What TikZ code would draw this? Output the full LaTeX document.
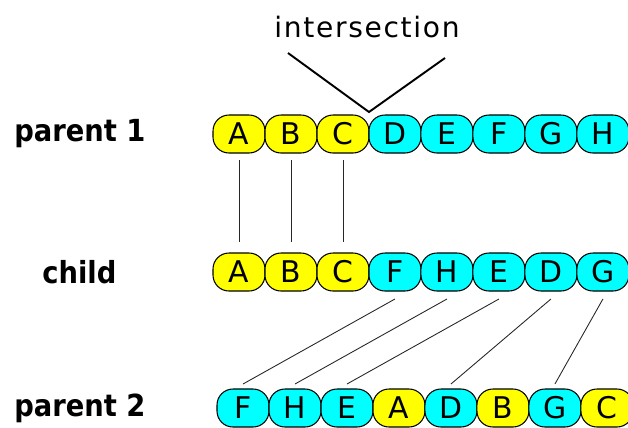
\documentclass[tikz,border=0pt]{standalone}
\usepackage{fontspec}
\setmainfont{DejaVu Sans}
\newfontfamily\labelfont{DejaVu Sans Condensed}
\usetikzlibrary{positioning}

\definecolor{geneyellow}{RGB}{255,255,0}
\definecolor{genecyan}{RGB}{0,255,255}

\begin{document}
\begin{tikzpicture}[
    x=0.02cm, y=-0.02cm,
    gene/.style={
        rectangle,
        draw,
        line width=0.6pt,
        rounded corners=0.32cm,
        inner sep=0pt,
        outer sep=0pt,
        minimum width=1.04cm,
        minimum height=0.76cm,
        font=\fontsize{17}{17}\selectfont
    },
    rowlabel/.style={
        anchor=west,
        inner sep=0pt,
        font=\labelfont\bfseries\fontsize{17.3}{17.3}\selectfont
    },
    link/.style={line width=0.5pt, black!85}
]
\useasboundingbox (0,0) rectangle (628,427);

% row names
\node[rowlabel] (p1_name) at (14,134) {parent 1};
\node[rowlabel] (ch_name) at (42,272) {child};
\node[rowlabel] (p2_name) at (14,408) {parent 2};

% chromosomes, one gene after another
\coordinate (p1-0) at (213,134);
\foreach \g/\c [count=\i] in {A/geneyellow, B/geneyellow, C/geneyellow,
        D/genecyan, E/genecyan, F/genecyan, G/genecyan, H/genecyan} {
    \pgfmathtruncatemacro\j{\i-1}
    \node[gene, fill=\c, right=0pt of p1-\j] (p1-\i) {\g};
}

\coordinate (ch-0) at (213,272);
\foreach \g/\c [count=\i] in {A/geneyellow, B/geneyellow, C/geneyellow,
        F/genecyan, H/genecyan, E/genecyan, D/genecyan, G/genecyan} {
    \pgfmathtruncatemacro\j{\i-1}
    \node[gene, fill=\c, right=0pt of ch-\j] (ch-\i) {\g};
}

\coordinate (p2-0) at (217,408);
\foreach \g/\c [count=\i] in {F/genecyan, H/genecyan, E/genecyan,
        A/geneyellow, D/genecyan, B/geneyellow, G/genecyan, C/geneyellow} {
    \pgfmathtruncatemacro\j{\i-1}
    \node[gene, fill=\c, right=0pt of p2-\j] (p2-\i) {\g};
}

% cut point
\node[anchor=base, inner sep=0pt, font=\addfontfeature{LetterSpace=6}\fontsize{16}{16}\selectfont]
    (isec) at (367,37) {intersection};
\coordinate (isec_l) at (288,53);
\coordinate (isec_r) at (445,58);
\coordinate (cut) at ([yshift=0.06cm]p1-3.north east);
\draw[line width=1.1pt] (isec_l) -- (cut) -- (isec_r);

% genes taken from parent 1
\foreach \i in {1,2,3}
    \draw[link, shorten <=4pt, shorten >=6pt] (p1-\i) -- (ch-\i);

% genes taken from parent 2, in its order
\foreach \a/\b in {4/1, 5/2, 6/3, 7/5, 8/7}
    \draw[link] ([yshift=-0.16cm]ch-\a.south) -- ([yshift=0.1cm]p2-\b.north);

\end{tikzpicture}
\end{document}
